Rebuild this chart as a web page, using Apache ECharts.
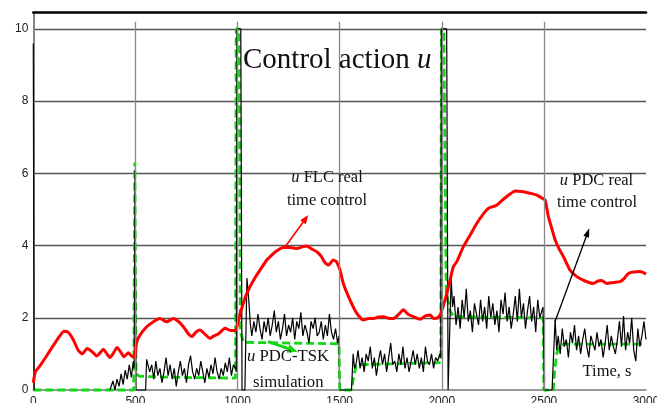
<!DOCTYPE html>
<html><head><meta charset="utf-8">
<script src="https://cdn.jsdelivr.net/npm/echarts@6/dist/echarts.min.js"></script>
<style>html,body{margin:0;padding:0;background:#fff;overflow:hidden}#c{width:657px;height:403px}</style>
</head><body><div id="c"></div>
<script>
// ---------------- DATA ----------------
const xTicks = [0, 500, 1000, 1500, 2000, 2500, 3000];
const yTicks = [0, 2, 4, 6, 8, 10];

// u FLC real time control (red) [time s, u]
const flcReal = [[0,0.2],[10,0.5],[30,0.65],[60,0.9],[100,1.25],[130,1.5],[150,1.63],[170,1.6],[195,1.4],[220,1.1],[240,1.0],[264,1.15],[290,1.05],[310,0.94],[330,1.05],[343,1.13],[360,1.0],[376,0.9],[395,1.05],[410,1.18],[428,1.05],[444,0.92],[465,1.03],[480,0.95],[497,0.9],[505,1.3],[520,1.5],[555,1.75],[590,1.9],[620,1.98],[653,1.89],[686,1.98],[710,1.9],[735,1.75],[760,1.55],[776,1.48],[796,1.6],[816,1.66],[840,1.55],[865,1.43],[885,1.5],[906,1.55],[939,1.71],[965,1.65],[990,1.65],[1000,1.8],[1012,2.1],[1040,2.6],[1061,2.86],[1090,3.15],[1110,3.32],[1143,3.6],[1159,3.69],[1190,3.85],[1224,3.95],[1260,3.95],[1290,3.92],[1320,3.97],[1339,3.99],[1365,3.9],[1388,3.83],[1410,3.7],[1425,3.55],[1445,3.46],[1469,3.6],[1485,3.55],[1502,3.32],[1518,2.95],[1551,2.49],[1584,2.12],[1616,1.94],[1640,1.98],[1665,1.98],[1690,2.02],[1714,2.03],[1740,1.99],[1763,1.98],[1790,2.1],[1812,2.22],[1835,2.1],[1861,2.03],[1894,1.96],[1920,2.05],[1943,2.08],[1960,1.98],[1980,2.0],[1995,2.12],[2016,2.49],[2041,3.05],[2057,3.42],[2073,3.55],[2106,3.97],[2140,4.3],[2171,4.61],[2200,4.85],[2228,5.03],[2250,5.08],[2269,5.12],[2295,5.25],[2318,5.36],[2340,5.45],[2359,5.51],[2390,5.5],[2416,5.47],[2440,5.44],[2465,5.4],[2490,5.32],[2506,5.26],[2522,4.8],[2540,4.45],[2555,4.16],[2575,3.9],[2596,3.69],[2628,3.32],[2661,3.14],[2690,3.05],[2710,3.0],[2742,2.95],[2765,3.02],[2783,3.03],[2808,2.95],[2840,2.98],[2873,3.0],[2895,3.1],[2914,3.23],[2940,3.27],[2971,3.28],[3000,3.21]];

// u PDC-TSK simulation (green dashed) [time s, u]
const pdcTskSim = [[0,0],[492,0],[497,6.3],[503,0.45],[520,0.38],[700,0.35],[990,0.33],[993,10],[1008,10],[1014,1.6],[1030,1.32],[1497,1.28],[1500,0],[1558,0],[1568,0.35],[1580,0.65],[1600,0.7],[1995,0.76],[1998,10],[2010,10],[2022,2.7],[2040,2.2],[2058,2.03],[2497,2.0],[2500,0],[2546,0],[2553,0.5],[2562,1.0],[2578,1.22],[2600,1.27],[3000,1.27]];

// u PDC real time control (black): transitions [time s, u]
const pdcRealSteps = [[0,9.6],[4,0],[150,'-'],[375,0],[494,0.6],[498,6.1],[503,0],[550,0],[555,0.85],[994,0.5],[997,10],[1016,10],[1022,0],[1036,0],[1046,3.1],[1055,2.5],[1063,1.8],[1497,1.5],[1500,0],[1558,0],[1566,1.0],[1573,0.6],[1995,0.9],[1998,10],[2024,10],[2031,0],[2038,0],[2046,3.1],[2053,2.3],[2496,2.3],[2502,0],[2540,0],[2555,1.95],[2563,1.1]];
// measured noisy stretches, sampled every 10 s
const noiseStep = 10;
const noiseStarts = [380, 560, 1070, 1580, 2060, 2570];
const pdcNoise1 = [0.05,0.25,0.0,0.3,0.1,0.45,0.15,0.55,0.3,0.7,0.35,0.8];
const pdcNoise2 = [0.9,0.5,0.7,0.3,0.8,0.4,0.6,0.2,0.5,0.9,0.4,0.7,0.3,0.6,0.1,0.5,0.8,0.4,0.6,0.2,0.7,0.95,0.5,0.3,0.6,0.4,0.8,0.5,0.2,0.6,0.35,0.7,0.45,0.9,0.5,0.3,0.6,0.4,0.75,0.5,0.9,0.4,0.7,0.6];
const pdcNoise3 = [1.5,1.9,1.6,2.1,1.7,1.4,1.9,1.6,2.0,1.5,1.8,2.2,1.6,1.9,1.4,1.7,2.1,1.5,1.8,1.6,2.0,1.4,1.9,1.7,2.15,1.5,1.8,1.6,1.3,1.9,1.7,2.0,1.5,1.6,1.9,1.4,1.8,1.5,2.1,1.6,1.4,1.7,1.3];
const pdcNoise4 = [0.7,1.1,0.6,0.9,0.5,1.0,0.8,1.2,0.6,0.9,0.4,0.8,1.1,0.7,1.0,0.5,0.9,1.3,0.7,0.8,0.5,1.0,0.7,1.2,0.6,0.9,0.5,0.8,1.1,0.7,1.0,0.6,0.9,0.5,1.2,0.8,0.7,1.0,0.6,0.9,0.8,1.0];
const pdcNoise5 = [2.6,1.8,2.3,1.7,2.5,2.0,2.8,1.9,2.2,1.6,2.4,2.1,1.8,2.5,1.9,2.3,1.7,2.6,2.0,2.4,1.8,2.2,1.6,2.5,2.1,2.7,1.9,2.3,1.7,2.1,2.6,1.9,2.8,2.0,2.4,1.7,2.2,2.6,1.9,2.3,1.6,2.5,2.0,2.2];
const pdcNoise6 = [1.5,1.0,1.7,1.2,1.4,0.9,1.6,1.3,1.8,1.1,1.5,1.0,1.4,1.7,1.2,0.9,1.5,1.3,1.1,1.6,1.2,1.4,0.9,1.3,1.8,1.1,1.5,1.2,1.0,1.4,1.9,1.2,2.05,1.1,1.6,1.3,2.0,1.1,0.8,1.7,1.2,1.5,1.9,1.4];

// ---------------- BUILD ----------------
const noiseSegs = [pdcNoise1, pdcNoise2, pdcNoise3, pdcNoise4, pdcNoise5, pdcNoise6];
let pdcReal = pdcRealSteps.slice();
noiseSegs.forEach((seg, k) => seg.forEach((v, i) => pdcReal.push([noiseStarts[k] + i * noiseStep, v])));
pdcReal.sort((a, b) => a[0] - b[0]);

const serif = '"Liberation Serif","Times New Roman",serif';
// parts: array of [text, italic?]
function txt(x, y, parts, size, align) {
  const rich = {
    i: { font: 'italic ' + size + 'px ' + serif, fill: '#111' },
    r: { font: size + 'px ' + serif, fill: '#111' }
  };
  return { type: 'text', x: x, y: y, z: 100,
    style: { text: parts.map(p => '{' + (p[1] ? 'i' : 'r') + '|' + p[0] + '}').join(''), rich: rich,
      font: size + 'px ' + serif, fill: '#111', align: align || 'center', verticalAlign: 'middle' } };
}
function arrow(x1, y1, x2, y2, color, w, hl, hw) {
  const dx = x2 - x1, dy = y2 - y1, L = Math.hypot(dx, dy), ux = dx / L, uy = dy / L;
  const bx = x2 - ux * hl, by = y2 - uy * hl, px = -uy * hw / 2, py = ux * hw / 2;
  return [
    { type: 'line', z: 90, shape: { x1: x1, y1: y1, x2: bx + ux, y2: by + uy }, style: { stroke: color, lineWidth: w } },
    { type: 'polygon', z: 90, shape: { points: [[x2, y2], [bx + px, by + py], [bx - px, by - py]] }, style: { fill: color } }
  ];
}

const el = document.getElementById('c');
const chart = echarts.init(el, null, { renderer: 'canvas', width: 657, height: 403 });
chart.setOption({
  animation: false,
  backgroundColor: '#fff',
  grid: { left: 33.3, right: 11, top: 12.7, bottom: 13, containLabel: false, outerBoundsMode: 'none' },
  xAxis: [{
    type: 'value', min: xTicks[0], max: xTicks[xTicks.length - 1], interval: 500,
    axisLine: { show: true, lineStyle: { color: '#777', width: 1.5 } },
    axisTick: { show: false },
    splitLine: { show: false },
    axisLabel: { margin: 6, fontFamily: '"Liberation Sans",Arial,sans-serif', fontSize: 12, color: '#222',
      formatter: v => String(v) }
  }, {
    type: 'value', position: 'top', min: 0, max: 3000,
    axisLine: { show: true, onZero: false, lineStyle: { color: '#000', width: 2.5 } },
    axisTick: { show: false }, axisLabel: { show: false }, splitLine: { show: false }
  }],
  yAxis: [{
    type: 'value', min: yTicks[0], max: 10.45, interval: 2,
    axisLine: { show: true, lineStyle: { color: '#777', width: 2 } },
    axisTick: { show: false },
    splitLine: { show: true, showMinLine: false, showMaxLine: false, lineStyle: { color: '#555', width: 1.3 } },
    axisLabel: { margin: 5, showMaxLabel: false, fontFamily: '"Liberation Sans",Arial,sans-serif', fontSize: 12, color: '#222',
      formatter: v => (yTicks.indexOf(v) >= 0 ? String(v) : '') }
  }, {
    type: 'value', position: 'right', min: 0, max: 10.45,
    axisLine: { show: true, lineStyle: { color: '#888', width: 1.5 } },
    axisTick: { show: false }, axisLabel: { show: false }, splitLine: { show: false }
  }],
  series: [{
    name: 'u PDC-TSK simulation', type: 'line', data: pdcTskSim, showSymbol: false, clip: false, z: 2,
    lineStyle: { color: '#14d814', width: 2.8, type: [8, 4] },
    markLine: {
      silent: true, symbol: 'none', animation: false, label: { show: false },
      lineStyle: { color: '#888', width: 1.3, type: 'solid' },
      data: xTicks.slice(1, -1).map(x => [{ coord: [x, 0] }, { coord: [x, 10.2] }])
    }
  }, {
    name: 'u PDC real time control', type: 'line', data: pdcReal, showSymbol: false, clip: false, z: 3,
    connectNulls: false,
    lineStyle: { color: '#000', width: 1.2 }
  }, {
    name: 'u FLC real time control', type: 'line', data: flcReal, showSymbol: false, z: 4, smooth: 0.2,
    lineStyle: { color: '#ff0000', width: 3 }
  }],
  graphic: [
    txt(243, 60, [['Control action ', false], ['u', true]], 29, 'left'),
    txt(327, 178, [['u', true], [' FLC real', false]], 16.5),
    txt(327, 200.5, [['time control', false]], 16.5),
    txt(596.5, 180.5, [['u', true], [' PDC real', false]], 16.5),
    txt(597, 202.3, [['time control', false]], 16.5),
    txt(288, 356.3, [['u', true], [' PDC-TSK', false]], 16.7),
    txt(288.3, 382.3, [['simulation', false]], 16.7),
    txt(607, 371.3, [['Time, s', false]], 16.5),
    ...arrow(285, 247, 308.3, 215, '#ff0000', 1.6, 9, 7),
    ...arrow(268, 341.7, 297.5, 351.8, '#14d814', 3, 10, 9),
    ...arrow(555, 321.7, 589.3, 228.3, '#000', 1.3, 9, 6)
  ]
});
</script>
</body></html>
